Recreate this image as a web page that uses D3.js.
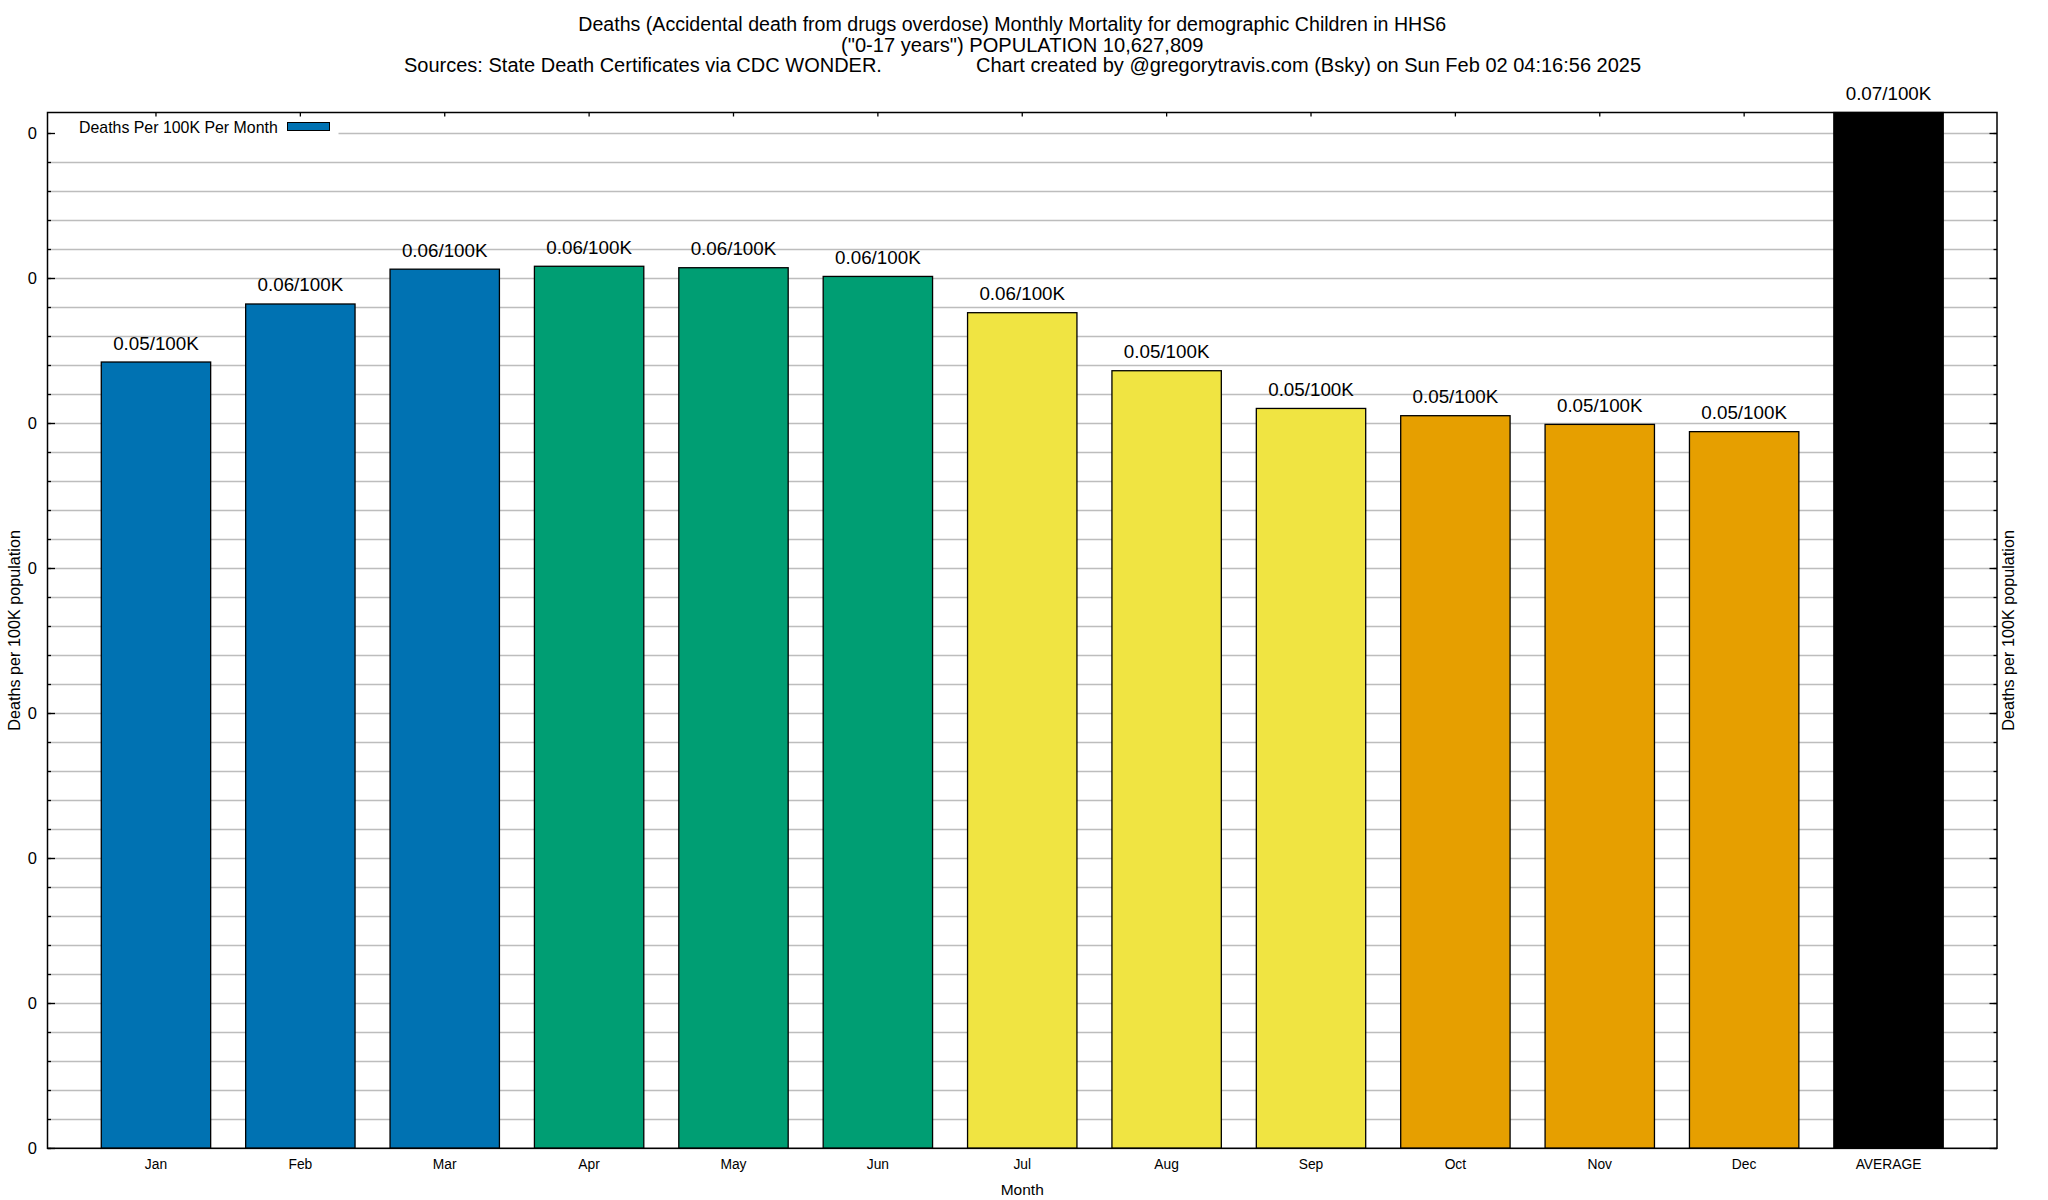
<!DOCTYPE html>
<html>
<head>
<meta charset="utf-8">
<script src="https://cdn.jsdelivr.net/npm/d3@7"></script>
<style>
  body { margin: 0; background: #fff; }
  text { font-family: "Liberation Sans", Arial, Helvetica, sans-serif; fill: #000; }
</style>
</head>
<body>
<svg id="chart" width="2048" height="1200"></svg>
<script>
// months and the average bar
var months = ["Jan", "Feb", "Mar", "Apr", "May", "Jun", "Jul", "Aug", "Sep", "Oct", "Nov", "Dec", "AVERAGE"];
// deaths per 100K per month
var rates = [0.0542, 0.0582, 0.0606, 0.0608, 0.0607, 0.0601, 0.0576, 0.0536, 0.0510, 0.0505, 0.0499, 0.0494, 0.0714];
var barColours = ["#0072b2", "#0072b2", "#0072b2", "#009e73", "#009e73", "#009e73",
                  "#f0e442", "#f0e442", "#f0e442", "#e69f00", "#e69f00", "#e69f00", "#000000"];
var titleLines = [
  "Deaths (Accidental death from drugs overdose) Monthly Mortality for demographic Children in HHS6",
  "(\"0-17 years\") POPULATION 10,627,809"
];
var sourceText = "Sources: State Death Certificates via CDC WONDER.";
var creditText = "Chart created by @gregorytravis.com (Bsky) on Sun Feb 02 04:16:56 2025";
var legendLabel = "Deaths Per 100K Per Month";
var yLabel = "Deaths per 100K population";
var xLabel = "Month";

var margin = {top: 112.5, right: 51, bottom: 51.7, left: 47.5};
var W = 2048, H = 1200;
var svg = d3.select("#chart");
svg.append("rect").attr("width", W).attr("height", H).attr("fill", "#fff");

var x = d3.scaleBand()
    .domain(months)
    .range([margin.left, W - margin.right])
    .paddingInner(0.2424)
    .paddingOuter(0.3725);

var y = d3.scaleLinear()
    .domain([0, d3.max(rates)])
    .range([H - margin.bottom, margin.top]);

var x0 = margin.left, x1 = W - margin.right, y0 = H - margin.bottom, y1 = margin.top;

// ticks: major every 0.01, minor every 0.002
var majorTicks = d3.range(0, 0.0701, 0.01);
var minorTicks = d3.range(0, 0.0701, 0.002);
var fmt = d3.format(".0f");

// grid
svg.append("g").selectAll("line")
    .data(minorTicks)
    .enter().append("line")
    .attr("x1", x0).attr("x2", x1)
    .attr("y1", function(d) { return Math.round(y(d)) + 0.5; })
    .attr("y2", function(d) { return Math.round(y(d)) + 0.5; })
    .style("stroke", "#bdbdbd")
    .style("stroke-width", 1.3);

// legend box (covers the grid)
var lg = svg.append("g");
lg.append("rect").attr("x", x0 + 1).attr("y", y1 + 1).attr("width", 290).attr("height", 33).attr("fill", "#fff");
lg.append("text").attr("x", 79).attr("y", 133).style("font-size", "15.9px").text(legendLabel);
lg.append("rect").attr("x", 287.5).attr("y", 122.5).attr("width", 42).attr("height", 8)
    .attr("fill", barColours[0]).style("stroke", "#000").style("stroke-width", 1);

// top x ticks
svg.append("g").selectAll("line")
    .data(months)
    .enter().append("line")
    .attr("x1", function(d) { return x(d) + x.bandwidth() / 2; })
    .attr("x2", function(d) { return x(d) + x.bandwidth() / 2; })
    .attr("y1", y1).attr("y2", y1 + 4)
    .style("stroke", "#000").style("stroke-width", 1.3);

// bars
svg.append("g").selectAll("rect")
    .data(months)
    .enter().append("rect")
    .attr("x", function(d) { return x(d); })
    .attr("width", x.bandwidth())
    .attr("y", function(d, i) { return y(rates[i]); })
    .attr("height", function(d, i) { return y0 - y(rates[i]); })
    .attr("fill", function(d, i) { return barColours[i]; })
    .style("stroke", "#000")
    .style("stroke-width", 1.3);

// bar value labels
svg.append("g").selectAll("text")
    .data(months)
    .enter().append("text")
    .attr("x", function(d) { return x(d) + x.bandwidth() / 2; })
    .attr("y", function(d, i) { return y(rates[i]) - 12.5; })
    .attr("text-anchor", "middle")
    .style("font-size", "18.8px")
    .text(function(d, i) { return d3.format(".2f")(rates[i]) + "/100K"; });

// y ticks on both sides
[[x0, 1], [x1, -1]].forEach(function(side) {
  var g = svg.append("g");
  g.selectAll(".mi").data(minorTicks).enter().append("line")
      .attr("x1", side[0]).attr("x2", side[0] + side[1] * 3.5)
      .attr("y1", function(d) { return Math.round(y(d)) + 0.5; })
      .attr("y2", function(d) { return Math.round(y(d)) + 0.5; })
      .style("stroke", "#000").style("stroke-width", 1.3);
  g.selectAll(".ma").data(majorTicks).enter().append("line")
      .attr("x1", side[0]).attr("x2", side[0] + side[1] * 7.5)
      .attr("y1", function(d) { return Math.round(y(d)) + 0.5; })
      .attr("y2", function(d) { return Math.round(y(d)) + 0.5; })
      .style("stroke", "#000").style("stroke-width", 1.3);
});

// y tick labels (left)
svg.append("g").selectAll("text")
    .data(majorTicks)
    .enter().append("text")
    .attr("x", 37).attr("y", function(d) { return y(d); })
    .attr("dy", "0.36em")
    .attr("text-anchor", "end")
    .style("font-size", "16.5px")
    .text(function(d) { return fmt(d * 0); });

// x tick labels
svg.append("g").selectAll("text")
    .data(months)
    .enter().append("text")
    .attr("x", function(d) { return x(d) + x.bandwidth() / 2; })
    .attr("y", 1169)
    .attr("text-anchor", "middle")
    .style("font-size", "13.8px")
    .text(function(d) { return d; });

// frame
svg.append("rect")
    .attr("x", x0).attr("y", y1)
    .attr("width", x1 - x0).attr("height", y0 - y1)
    .attr("fill", "none").style("stroke", "#000").style("stroke-width", 1.5);

// axis titles
var cy = (y0 + y1) / 2;
svg.append("text").attr("transform", "translate(20," + cy + ") rotate(-90)")
    .attr("text-anchor", "middle").style("font-size", "16.2px").text(yLabel);
svg.append("text").attr("transform", "translate(2014," + cy + ") rotate(-90)")
    .attr("text-anchor", "middle").style("font-size", "16.2px").text(yLabel);
svg.append("text").attr("x", (x0 + x1) / 2).attr("y", 1195)
    .attr("text-anchor", "middle").style("font-size", "15.5px").text(xLabel);

// title (first line sits a little left of centre in the original)
svg.append("g").selectAll("text")
    .data(titleLines)
    .enter().append("text")
    .attr("x", function(d, i) { return (x0 + x1) / 2 - (i === 0 ? 10 : 0); })
    .attr("y", function(d, i) { return 31 + i * 20.5; })
    .attr("text-anchor", "middle")
    .style("font-size", function(d, i) { return i === 0 ? "19.6px" : "20.1px"; })
    .text(function(d) { return d; });

// third title line: sources on the left, credit further right
svg.append("text").attr("x", 404).attr("y", 72).style("font-size", "20px").text(sourceText);
svg.append("text").attr("x", 976).attr("y", 72).style("font-size", "20px").text(creditText);
</script>
</body>
</html>
